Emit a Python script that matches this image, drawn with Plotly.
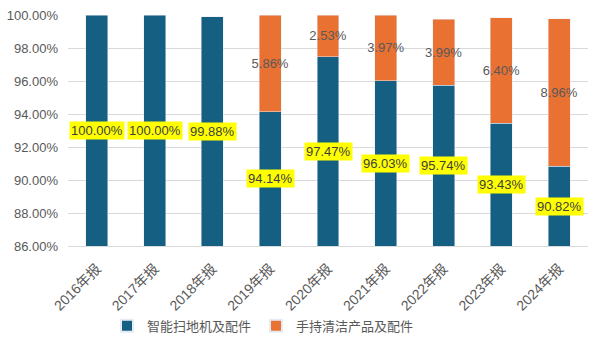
import plotly.graph_objects as go

categories = ["2016年报", "2017年报", "2018年报", "2019年报", "2020年报",
              "2021年报", "2022年报", "2023年报", "2024年报"]
robot = [100.00, 100.00, 99.88, 94.14, 97.47, 96.03, 95.74, 93.43, 90.82]
handheld = [None, None, None, 5.86, 2.53, 3.97, 3.99, 6.40, 8.96]
y_min, y_max = 86, 100

FONT = "Liberation Sans, Arial, Noto Sans CJK SC, sans-serif"
GRAY = "#595959"

fig = go.Figure()
fig.add_bar(x=categories, y=robot, name="智能扫地机及配件", marker_color="#156082")
fig.add_bar(x=categories, y=handheld, name="手持清洁产品及配件", marker_color="#E97132",
            text=[f"{v:.2f}%" if v is not None else "" for v in handheld],
            textposition="inside", insidetextanchor="middle", textangle=0,
            constraintext="none",
            textfont=dict(color=GRAY, size=13, family=FONT))

annotations = []
for c, v in zip(categories, robot):
    annotations.append(dict(x=c, y=(y_min + v) / 2, xref="x", yref="y",
                            text=f"{v:.2f}%", showarrow=False,
                            bgcolor="#FFFF00", borderpad=1,
                            font=dict(color="#404040", size=13, family=FONT)))

fig.update_layout(
    barmode="stack", bargap=0.62,
    width=600, height=353,
    margin=dict(l=68, r=12, t=15, b=107, autoexpand=False),
    plot_bgcolor="white", paper_bgcolor="white",
    font=dict(family=FONT, size=13, color=GRAY),
    annotations=annotations,
    legend=dict(orientation="h", x=0.075, xanchor="left", y=-0.345, yanchor="middle",
                traceorder="normal",
                font=dict(size=13, color=GRAY), itemsizing="constant"),
    uniformtext=dict(mode=False),
)
fig.update_yaxes(range=[y_min, y_max], dtick=2, ticksuffix="%", tickformat=".2f",
                 showgrid=True, gridcolor="#D9D9D9", gridwidth=1, zeroline=False,
                 tickfont=dict(size=13, color=GRAY), ticks="", showline=False,
                 automargin=False, ticklabelstandoff=9)
fig.update_xaxes(tickangle=-45, showline=True, linecolor="#D9D9D9", automargin=False,
                 tickfont=dict(size=14, color=GRAY), ticks="", ticklabelstandoff=8)
fig.write_html("out.html")
